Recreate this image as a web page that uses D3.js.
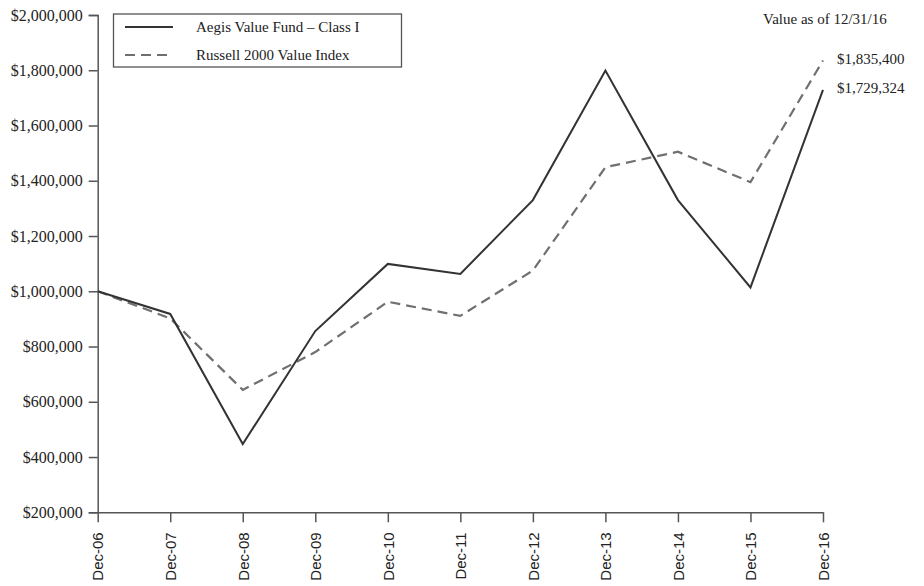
<!DOCTYPE html>
<html>
<head>
<meta charset="utf-8">
<script src="https://cdn.jsdelivr.net/npm/d3@7"></script>
<style>
  body { margin: 0; background: #fff; }
  svg { display: block; }
</style>
</head>
<body>
<div id="chart"></div>
<script>
// values
const periods = ["Dec-06", "Dec-07", "Dec-08", "Dec-09", "Dec-10", "Dec-11",
  "Dec-12", "Dec-13", "Dec-14", "Dec-15", "Dec-16"];
const aegisFund = [1000000, 918000, 447000, 856000, 1099000, 1063000,
  1330000, 1799000, 1330000, 1014000, 1729324];
const russellIndex = [1000000, 902000, 643000, 780000, 962000, 911000,
  1075000, 1449000, 1505000, 1395000, 1835400];
const yTicks = [200000, 400000, 600000, 800000, 1000000, 1200000,
  1400000, 1600000, 1800000, 2000000];
const seriesNames = ["Aegis Value Fund \u2013 Class I", "Russell 2000 Value Index"];
const endLabels = ["$1,729,324", "$1,835,400"];
const asOfLabel = "Value as of 12/31/16";

const width = 924;
const height = 586;
const margin = { top: 15, right: 101, bottom: 73.7, left: 97.7 };

const svg = d3.select("#chart")
  .append("svg")
  .attr("width", width)
  .attr("height", height);

const x = d3.scalePoint()
  .domain(periods)
  .range([margin.left, width - margin.right]);

const y = d3.scaleLinear()
  .domain([200000, 2000000])
  .range([height - margin.bottom, margin.top]);

const axisColor = "#555";
const textColor = "#222";
const serif = "'Liberation Serif', 'Times New Roman', serif";
const sans = "'Liberation Sans', Arial, sans-serif";

// y axis
const yAxis = d3.axisLeft(y)
  .tickValues(yTicks)
  .tickSize(9)
  .tickPadding(6)
  .tickFormat((d) => "$" + d3.format(",")(d));

svg.append("g")
  .attr("class", "y-axis")
  .attr("transform", `translate(${margin.left}, 0)`)
  .call(yAxis)
  .call((g) => {
    g.select(".domain").attr("stroke", axisColor).attr("stroke-width", 1.5);
    g.selectAll(".tick line").attr("stroke", axisColor).attr("stroke-width", 1.5);
    g.selectAll(".tick text")
      .attr("fill", textColor)
      .style("font-family", serif)
      .style("font-size", "16px");
  });

// x axis
const xAxis = d3.axisBottom(x)
  .tickSize(10)
  .tickSizeOuter(0)
  .tickPadding(0);

svg.append("g")
  .attr("class", "x-axis")
  .attr("transform", `translate(0, ${height - margin.bottom})`)
  .call(xAxis)
  .call((g) => {
    g.select(".domain").attr("stroke", axisColor).attr("stroke-width", 1.5);
    g.selectAll(".tick line").attr("stroke", axisColor).attr("stroke-width", 1.5);
    g.selectAll(".tick text")
      .attr("fill", textColor)
      .style("font-family", sans)
      .style("font-size", "15px")
      .attr("text-anchor", "end")
      .attr("dy", "0.35em")
      .attr("transform", "translate(0, 20) rotate(-90)")
      .attr("x", 0)
      .attr("y", 0);
  });

// lines
const line = d3.line()
  .x((d, i) => x(periods[i]))
  .y((d) => y(d));

svg.append("path")
  .datum(russellIndex)
  .attr("fill", "none")
  .attr("stroke", "#707070")
  .attr("stroke-width", 2.2)
  .attr("stroke-dasharray", "10,6")
  .attr("d", line);

svg.append("path")
  .datum(aegisFund)
  .attr("fill", "none")
  .attr("stroke", "#333")
  .attr("stroke-width", 2)
  .attr("stroke-linejoin", "miter")
  .attr("d", line);

// end value labels
const last = periods.length - 1;
const endValues = [aegisFund[last], russellIndex[last]];
svg.selectAll(".end-label")
  .data(endValues)
  .enter()
  .append("text")
  .attr("class", "end-label")
  .attr("x", x(periods[last]) + 14)
  .attr("y", (d) => y(d) - 2)
  .attr("dy", "0.35em")
  .attr("fill", textColor)
  .style("font-family", serif)
  .style("font-size", "15px")
  .text((d, i) => endLabels[i]);

svg.append("text")
  .attr("x", 763)
  .attr("y", 19)
  .attr("dy", "0.35em")
  .attr("fill", textColor)
  .style("font-family", serif)
  .style("font-size", "15px")
  .text(asOfLabel);

// legend
const legend = svg.append("g").attr("class", "legend");
legend.append("rect")
  .attr("x", 113.5)
  .attr("y", 14)
  .attr("width", 288)
  .attr("height", 53)
  .attr("fill", "#fff")
  .attr("stroke", axisColor)
  .attr("stroke-width", 1.3);

const legendRows = [
  { name: seriesNames[0], color: "#333", dash: null, width: 2 },
  { name: seriesNames[1], color: "#707070", dash: "10,6", width: 2.2 },
];
legendRows.forEach((row, i) => {
  const ly = 27 + i * 28;
  legend.append("line")
    .attr("x1", 125)
    .attr("x2", 173)
    .attr("y1", ly)
    .attr("y2", ly)
    .attr("stroke", row.color)
    .attr("stroke-width", row.width)
    .attr("stroke-dasharray", row.dash);
  legend.append("text")
    .attr("x", 196)
    .attr("y", ly)
    .attr("dy", "0.35em")
    .attr("fill", textColor)
    .style("font-family", serif)
    .style("font-size", "15px")
    .text(row.name);
});
</script>
</body>
</html>
